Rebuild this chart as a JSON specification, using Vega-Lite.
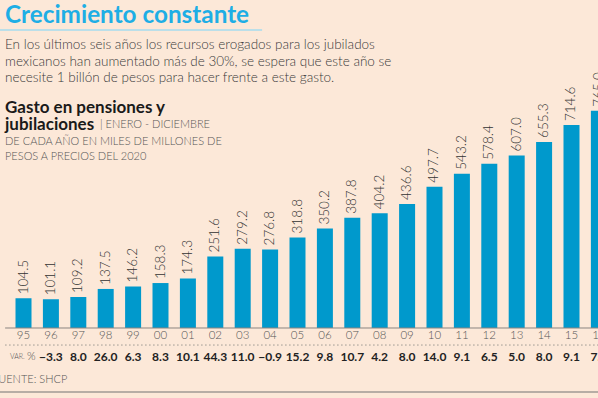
{
  "$schema": "https://vega.github.io/schema/vega-lite/v6.json",
  "width": 598,
  "height": 398,
  "padding": 0,
  "autosize": {"type": "none"},
  "background": "#fce8d8",
  "config": {"view": {"stroke": null}, "font": "Lato"},
  "data": {"values": [
    {"yr": "95", "gasto": 104.5, "var": null},
    {"yr": "96", "gasto": 101.1, "var": -3.3},
    {"yr": "97", "gasto": 109.2, "var": 8.0},
    {"yr": "98", "gasto": 137.5, "var": 26.0},
    {"yr": "99", "gasto": 146.2, "var": 6.3},
    {"yr": "00", "gasto": 158.3, "var": 8.3},
    {"yr": "01", "gasto": 174.3, "var": 10.1},
    {"yr": "02", "gasto": 251.6, "var": 44.3},
    {"yr": "03", "gasto": 279.2, "var": 11.0},
    {"yr": "04", "gasto": 276.8, "var": -0.9},
    {"yr": "05", "gasto": 318.8, "var": 15.2},
    {"yr": "06", "gasto": 350.2, "var": 9.8},
    {"yr": "07", "gasto": 387.8, "var": 10.7},
    {"yr": "08", "gasto": 404.2, "var": 4.2},
    {"yr": "09", "gasto": 436.6, "var": 8.0},
    {"yr": "10", "gasto": 497.7, "var": 14.0},
    {"yr": "11", "gasto": 543.2, "var": 9.1},
    {"yr": "12", "gasto": 578.4, "var": 6.5},
    {"yr": "13", "gasto": 607.0, "var": 5.0},
    {"yr": "14", "gasto": 655.3, "var": 8.0},
    {"yr": "15", "gasto": 714.6, "var": 9.1},
    {"yr": "16", "gasto": 765.0, "var": 7.1}
  ]},
  "encoding": {
    "x": {
      "field": "yr", "type": "ordinal", "axis": null,
      "scale": {
        "type": "band",
        "domain": ["95","96","97","98","99","00","01","02","03","04","05","06","07","08","09","10","11","12","13","14","15","16"],
        "range": [0, 622.4], "paddingInner": 0.416, "paddingOuter": 0.566
      }
    },
    "y": {
      "type": "quantitative", "axis": null,
      "scale": {"domain": [-246.5, 1155], "nice": false, "zero": false}
    }
  },
  "layer": [
    {
      "mark": {"type": "bar", "color": "#0099cc"},
      "encoding": {"y": {"field": "gasto", "type": "quantitative"}}
    },
    {
      "mark": {"type": "text", "angle": 270, "align": "left", "baseline": "middle", "dx": 4, "fontSize": 13.5, "fontWeight": 300, "color": "#333333"},
      "encoding": {
        "y": {"field": "gasto", "type": "quantitative"},
        "text": {"field": "gasto", "type": "quantitative", "format": ".1f"}
      }
    },
    {
      "mark": {"type": "text", "align": "center", "baseline": "middle", "fontSize": 11.5, "fontWeight": 300, "color": "#555555"},
      "encoding": {
        "y": {"datum": -28.2},
        "text": {"field": "yr", "type": "nominal"}
      }
    },
    {
      "transform": [{"filter": "datum['var'] != null"}],
      "mark": {"type": "text", "align": "center", "baseline": "middle", "fontSize": 12, "fontWeight": "bold", "color": "#222222"},
      "encoding": {
        "y": {"datum": -102},
        "text": {"field": "var", "type": "quantitative", "format": ".1f"}
      }
    },
    {
      "data": {"values": [{}]},
      "mark": {"type": "rule", "color": "#8a8580", "strokeWidth": 1},
      "encoding": {
        "x": {"datum": "95", "type": "ordinal", "bandPosition": -0.65},
        "x2": {"datum": "16", "bandPosition": 1},
        "y": {"datum": 0}
      }
    },
    {
      "data": {"values": [{}]},
      "mark": {"type": "rule", "color": "#9a9590", "strokeWidth": 1, "strokeDash": [1.5, 2.5]},
      "encoding": {
        "x": {"datum": "95", "type": "ordinal", "bandPosition": -0.65},
        "x2": {"datum": "16", "bandPosition": 1},
        "y": {"datum": -60}
      }
    },
    {
      "data": {"values": [{}]},
      "mark": {"type": "rule", "color": "#a09a95", "strokeWidth": 1.5},
      "encoding": {
        "x": {"datum": "95", "type": "ordinal", "bandPosition": -0.97},
        "x2": {"datum": "16", "bandPosition": 1},
        "y": {"datum": -225}
      }
    },
    {
      "data": {"values": [{}]},
      "mark": {"type": "rule", "color": "#a6dcef", "strokeWidth": 1.5},
      "encoding": {
        "x": {"datum": "95", "type": "ordinal", "bandPosition": -0.97},
        "x2": {"datum": "04", "bandPosition": 0},
        "y": {"datum": 1049}
      }
    },
    {
      "data": {"values": [{}]},
      "mark": {"type": "text", "align": "left", "baseline": "middle", "dx": -10.5, "fontSize": 24.3, "fontWeight": "bold", "color": "#1eaee5"},
      "encoding": {
        "x": {"datum": "95", "type": "ordinal", "bandPosition": 0},
        "y": {"datum": 1100},
        "text": {"value": "Crecimiento constante"}
      }
    },
    {
      "data": {"values": [{}]},
      "mark": {"type": "text", "align": "left", "baseline": "middle", "dx": -10.5, "fontSize": 13.5, "fontWeight": 300, "lineHeight": 16.5, "color": "#3a3a3a"},
      "encoding": {
        "x": {"datum": "95", "type": "ordinal", "bandPosition": 0},
        "y": {"datum": 996.5},
        "text": {"value": ["En los últimos seis años los recursos erogados para los jubilados", "mexicanos han aumentado más de 30%, se espera que este año se", "necesite 1 billón de pesos para hacer frente a este gasto."]}
      }
    },
    {
      "data": {"values": [{}]},
      "mark": {"type": "text", "align": "left", "baseline": "middle", "dx": -10.5, "fontSize": 17, "fontWeight": "bold", "lineHeight": 16.5, "color": "#1a1a1a"},
      "encoding": {
        "x": {"datum": "95", "type": "ordinal", "bandPosition": 0},
        "y": {"datum": 773.6},
        "text": {"value": ["Gasto en pensiones y", "jubilaciones"]}
      }
    },
    {
      "data": {"values": [{}]},
      "mark": {"type": "text", "align": "left", "baseline": "middle", "dx": 84.5, "fontSize": 11, "fontWeight": 300, "color": "#555555"},
      "encoding": {
        "x": {"datum": "95", "type": "ordinal", "bandPosition": 0},
        "y": {"datum": 714},
        "text": {"value": "| ENERO - DICIEMBRE"}
      }
    },
    {
      "data": {"values": [{}]},
      "mark": {"type": "text", "align": "left", "baseline": "middle", "dx": -10.5, "fontSize": 11, "fontWeight": 300, "lineHeight": 15, "color": "#555555"},
      "encoding": {
        "x": {"datum": "95", "type": "ordinal", "bandPosition": 0},
        "y": {"datum": 655},
        "text": {"value": ["DE CADA AÑO EN MILES DE MILLONES DE", "PESOS A PRECIOS DEL 2020"]}
      }
    },
    {
      "data": {"values": [{}]},
      "mark": {"type": "text", "align": "left", "baseline": "middle", "dx": -5.5, "fontSize": 7, "fontWeight": 300, "color": "#555555"},
      "encoding": {
        "x": {"datum": "95", "type": "ordinal", "bandPosition": 0},
        "y": {"datum": -101},
        "text": {"value": "VAR."}
      }
    },
    {
      "data": {"values": [{}]},
      "mark": {"type": "text", "align": "left", "baseline": "middle", "dx": 11.5, "fontSize": 11, "fontWeight": 300, "color": "#555555"},
      "encoding": {
        "x": {"datum": "95", "type": "ordinal", "bandPosition": 0},
        "y": {"datum": -102},
        "text": {"value": "%"}
      }
    },
    {
      "data": {"values": [{}]},
      "mark": {"type": "text", "align": "left", "baseline": "middle", "dx": -23.5, "fontSize": 11, "fontWeight": 300, "color": "#555555"},
      "encoding": {
        "x": {"datum": "95", "type": "ordinal", "bandPosition": 0},
        "y": {"datum": -183},
        "text": {"value": "FUENTE: SHCP"}
      }
    }
  ]
}
